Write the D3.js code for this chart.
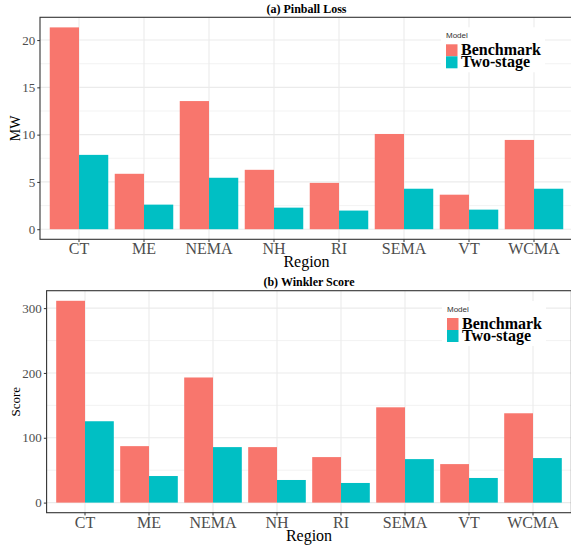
<!DOCTYPE html>
<html>
<head>
<meta charset="utf-8">
<script src="https://cdn.jsdelivr.net/npm/d3@7"></script>
<style>
  html, body { margin: 0; padding: 0; background: #fff; }
  svg { display: block; }
</style>
</head>
<body>
<svg id="chart" width="571" height="548"></svg>
<script>
// Regions along the x axis
const regions = ["CT", "ME", "NEMA", "NH", "RI", "SEMA", "VT", "WCMA"];
const models = ["Benchmark", "Two-stage"];
const modelColors = ["#F8766D", "#00BFC4"];

// (a) Pinball loss, MW
const pinballBenchmark = [21.34, 5.86, 13.55, 6.28, 4.90, 10.07, 3.65, 9.44];
const pinballTwoStage  = [7.86, 2.60, 5.44, 2.28, 1.97, 4.28, 2.07, 4.28];
const pinballTicks = [0, 5, 10, 15, 20];

// (b) Winkler score
const winklerBenchmark = [311.3, 87.1, 193.0, 85.6, 70.2, 147.0, 59.4, 137.8];
const winklerTwoStage  = [125.5, 41.0, 85.6, 34.9, 30.3, 67.1, 38.0, 68.7];
const winklerTicks = [0, 100, 200, 300];

const svg = d3.select("#chart");
const serif = "'Liberation Serif', 'Times New Roman', serif";
const sans = "'Liberation Sans', Arial, sans-serif";

function drawPanel(opt) {
  const { left, right, top, bottom } = opt.box;
  const g = svg.append("g");

  const x = d3.scaleBand().domain(regions).range([left, right])
    .paddingInner(0.1).paddingOuter(0.15);
  const x1 = d3.scaleBand().domain(models).range([0, x.bandwidth()]);

  const vmax = d3.max(opt.series.flat());
  const y = d3.scaleLinear().domain([-0.05 * vmax, 1.05 * vmax]).range([bottom, top]);

  // minor grid lines halfway between major ticks
  const step = opt.ticks[1] - opt.ticks[0];
  const minor = d3.range(opt.ticks[0] - step / 2, y.domain()[1], step)
    .filter(v => v > y.domain()[0] && v < y.domain()[1]);
  g.selectAll(".minor").data(minor).join("line")
    .attr("x1", left).attr("x2", right)
    .attr("y1", d => y(d)).attr("y2", d => y(d))
    .attr("stroke", "#EBEBEB").attr("stroke-width", 0.6);
  g.selectAll(".major").data(opt.ticks).join("line")
    .attr("x1", left).attr("x2", right)
    .attr("y1", d => y(d)).attr("y2", d => y(d))
    .attr("stroke", "#EBEBEB").attr("stroke-width", 1.1);
  g.selectAll(".vmajor").data(regions).join("line")
    .attr("x1", d => x(d) + x.bandwidth() / 2).attr("x2", d => x(d) + x.bandwidth() / 2)
    .attr("y1", top).attr("y2", bottom)
    .attr("stroke", "#EBEBEB").attr("stroke-width", 1.1);

  // dodged bars
  models.forEach((m, mi) => {
    g.selectAll(".bar" + mi).data(regions).join("rect")
      .attr("x", d => x(d) + x1(m))
      .attr("width", x1.bandwidth())
      .attr("y", (d, i) => y(opt.series[mi][i]))
      .attr("height", (d, i) => y(0) - y(opt.series[mi][i]))
      .attr("fill", modelColors[mi]);
  });

  // legend inside the panel
  const lx = opt.legend.x, ly = opt.legend.y;
  g.append("rect").attr("x", lx - 5).attr("y", ly - 11).attr("width", 104).attr("height", 45)
    .attr("fill", "#fff");
  g.append("text").attr("x", lx).attr("y", ly).text("Model")
    .attr("font-family", sans).attr("font-size", 8).attr("fill", "#333");
  models.forEach((m, mi) => {
    g.append("rect").attr("x", lx).attr("y", ly + 6 + mi * 12).attr("width", 11.5).attr("height", 12)
      .attr("fill", modelColors[mi]);
    g.append("text").attr("x", lx + 15).attr("y", ly + 17 + mi * 12).text(m)
      .attr("font-family", serif).attr("font-weight", "bold").attr("font-size", 16).attr("fill", "#000");
  });

  // axes
  const yAxis = d3.axisLeft(y).tickValues(opt.ticks).tickSize(2.75).tickPadding(2);
  const ya = g.append("g").attr("transform", `translate(${left},0)`).call(yAxis);
  ya.select(".domain").remove();
  ya.selectAll(".tick line").attr("stroke", "#333");
  ya.selectAll(".tick text").attr("font-family", serif).attr("font-size", 13).attr("fill", "#4D4D4D");

  const xAxis = d3.axisBottom(x).tickSize(2.75).tickPadding(1);
  const xa = g.append("g").attr("transform", `translate(0,${bottom})`).call(xAxis);
  xa.select(".domain").remove();
  xa.selectAll(".tick line").attr("stroke", "#333");
  xa.selectAll(".tick text").attr("font-family", serif).attr("font-size", 16).attr("fill", "#4D4D4D");

  // panel border (left, top, bottom; right edge runs off the page)
  g.append("rect").attr("x", left).attr("y", top).attr("width", right - left).attr("height", bottom - top)
    .attr("fill", "none").attr("stroke", "#333").attr("stroke-width", 1.1);

  const cx = (left + right) / 2;
  g.append("text").attr("x", cx).attr("y", top - 4.5).attr("text-anchor", "middle")
    .attr("font-family", serif).attr("font-weight", "bold").attr("font-size", 12).text(opt.title);
  g.append("text").attr("x", cx).attr("y", bottom + 28).attr("text-anchor", "middle")
    .attr("font-family", serif).attr("font-size", 16).text("Region");
  g.append("text").attr("transform", `translate(${opt.ylabelX},${(top + bottom) / 2}) rotate(-90)`)
    .attr("text-anchor", "middle").attr("font-family", serif).attr("font-size", opt.ylabelSize)
    .text(opt.ylabel);
}

drawPanel({
  box: { left: 40, right: 573, top: 17.3, bottom: 239.3 },
  series: [pinballBenchmark, pinballTwoStage],
  ticks: pinballTicks,
  title: "(a) Pinball Loss",
  ylabel: "MW", ylabelX: 20, ylabelSize: 14,
  legend: { x: 446, y: 38.3 }
});

drawPanel({
  box: { left: 46.6, right: 571.4, top: 290.7, bottom: 512.7 },
  series: [winklerBenchmark, winklerTwoStage],
  ticks: winklerTicks,
  title: "(b) Winkler Score",
  ylabel: "Score", ylabelX: 20, ylabelSize: 13,
  legend: { x: 447, y: 312 }
});
</script>
</body>
</html>
